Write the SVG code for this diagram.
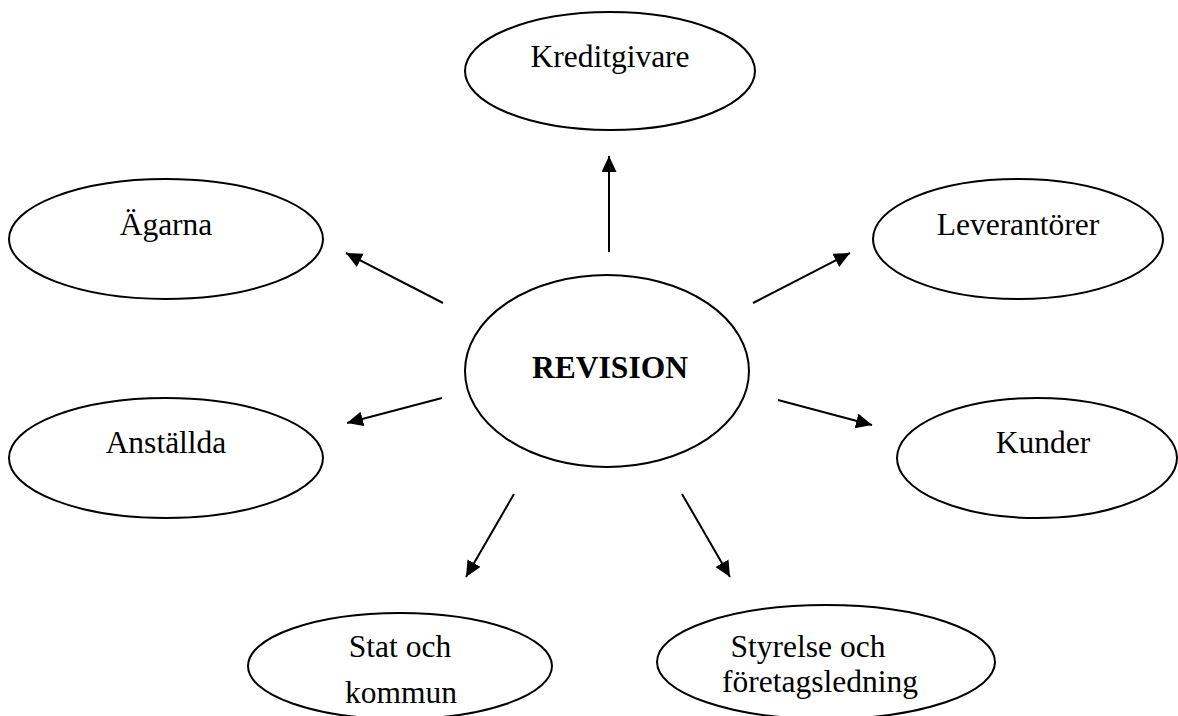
<svg xmlns="http://www.w3.org/2000/svg" width="1178" height="716" viewBox="0 0 1178 716">
<style>
.n{fill:#fff;stroke:#000;stroke-width:2}
.t{font-family:"Liberation Serif","Times New Roman",serif;font-size:31.5px;fill:#000;text-anchor:middle}
.b{font-weight:bold}
.c line{stroke:#000;stroke-width:2;marker-end:url(#ah)}
</style>
<defs>
<marker id="ah" markerUnits="userSpaceOnUse" markerWidth="17" markerHeight="16" refX="16" refY="7.5" orient="auto">
<path d="M0,0 L16,7.5 L0,15 z" fill="#000"/>
</marker>
</defs>
<rect width="1178" height="716" fill="#fff"/>
<g id="kreditgivare"><ellipse class="n" cx="610" cy="71" rx="145" ry="59"/><text class="t" x="610" y="67">Kreditgivare</text></g>
<g id="agarna"><ellipse class="n" cx="166" cy="239" rx="157" ry="60"/><text class="t" x="166" y="235">Ägarna</text></g>
<g id="leverantorer"><ellipse class="n" cx="1018" cy="239" rx="145" ry="60"/><text class="t" x="1018" y="235">Leverantörer</text></g>
<g id="revision"><ellipse class="n" cx="607" cy="371" rx="142" ry="96"/><text class="t b" x="610" y="378">REVISION</text></g>
<g id="anstallda"><ellipse class="n" cx="166" cy="458" rx="157" ry="60"/><text class="t" x="166" y="453">Anställda</text></g>
<g id="kunder"><ellipse class="n" cx="1037" cy="458" rx="140" ry="60"/><text class="t" x="1043" y="453">Kunder</text></g>
<g id="stat"><ellipse class="n" cx="400" cy="666" rx="152" ry="53"/><text class="t" x="400" y="657">Stat och</text><text class="t" x="401" y="703">kommun</text></g>
<g id="styrelse"><ellipse class="n" cx="826" cy="662" rx="169" ry="57"/><text class="t" x="808" y="657">Styrelse och</text><text class="t" x="820" y="692">företagsledning</text></g>
<g id="connectors" class="c">
<line x1="609" y1="252" x2="609" y2="156"/>
<line x1="443" y1="303" x2="346" y2="253"/>
<line x1="753" y1="303" x2="850" y2="253"/>
<line x1="442" y1="398" x2="347" y2="423"/>
<line x1="778" y1="400" x2="872" y2="425"/>
<line x1="514" y1="494" x2="466" y2="577"/>
<line x1="682" y1="494" x2="730" y2="577"/>
</g>
</svg>
